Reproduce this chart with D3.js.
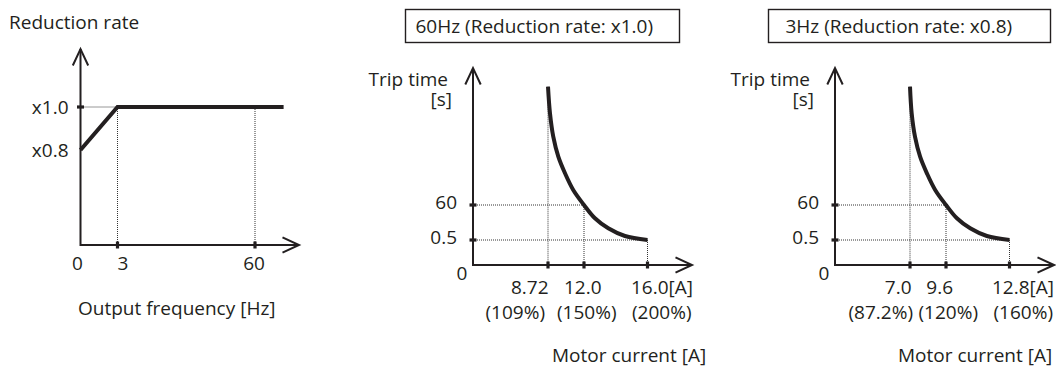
<!DOCTYPE html>
<html>
<head>
<meta charset="utf-8">
<script src="https://cdn.jsdelivr.net/npm/d3@7"></script>
<style>
  html, body { margin: 0; padding: 0; background: #fff; overflow: hidden; }
  svg { display: block; }
  text { font-family: "Open Sans", "Noto Sans", sans-serif; font-size: 19px; fill: #231f20; }
</style>
</head>
<body>
<svg id="chart" width="1056" height="367"></svg>
<script>
// ---------- DATA ----------
// Panel 1: reduction rate vs output frequency
const freqTicks = [0, 3, 60];
const freqTickLabels = ["0", "3", "60"];
const rateTicks = [0.8, 1.0];
const rateTickLabels = ["x0.8", "x1.0"];
const rateFreq = [0, 3, 73];
const rateValue = [0.8, 1.0, 1.0];

// Trip time axis (shared by panels 2 and 3)
const timeTicks = [0.5, 60];
const timeTickLabels = ["0.5", "60"];

// Panel 2: 60Hz (reduction rate x1.0)
const hz60Current = [8.72, 8.90, 9.20, 9.66, 10.27, 11.02, 12.0, 12.69, 13.53, 14.58, 16.0];
const hz60Time = [3117, 2430, 1825, 1308, 879, 448, 60, 37.4, 20.4, 7.3, 0.5];
const hz60Ticks = [8.72, 12.0, 16.0];
const hz60TickLabels = ["8.72", "12.0", "16.0[A]"];
const hz60PctLabels = ["(109%)", "(150%)", "(200%)"];

// Panel 3: 3Hz (reduction rate x0.8)
const hz3Current = [7.0, 7.12, 7.36, 7.73, 8.22, 8.82, 9.6, 10.15, 10.82, 11.66, 12.8];
const hz3Time = [3117, 2430, 1825, 1308, 879, 448, 60, 37.4, 20.4, 7.3, 0.5];
const hz3Ticks = [7.0, 9.6, 12.8];
const hz3TickLabels = ["7.0", "9.6", "12.8[A]"];
const hz3PctLabels = ["(87.2%)", "(120%)", "(160%)"];

// ---------- LAYOUT ----------
const svg = d3.select("#chart");
const INK = "#231f20";

function arrowUp(g, x, y) {
  g.append("path").attr("d", `M${x - 7.7},${y + 16.5}L${x},${y}L${x + 7.7},${y + 16.5}`)
    .attr("fill", "none").attr("stroke", INK).attr("stroke-width", 2);
}
function arrowRight(g, x, y) {
  g.append("path").attr("d", `M${x - 16.5},${y - 7.7}L${x},${y}L${x - 16.5},${y + 7.7}`)
    .attr("fill", "none").attr("stroke", INK).attr("stroke-width", 2);
}
function dotted(g, x1, y1, x2, y2) {
  g.append("line").attr("x1", x1).attr("y1", y1).attr("x2", x2).attr("y2", y2)
    .attr("stroke", "#333").attr("stroke-width", 1).attr("stroke-dasharray", "1,1");
}
function axes(g, x, y) {
  const [x0, x1] = [x.range()[0], x.range()[x.range().length - 1]];
  const [y0, y1] = [y.range()[0], y.range()[y.range().length - 1]];
  g.append("path").attr("d", `M${x0},${y1}L${x0},${y0}L${x1},${y0}`)
    .attr("fill", "none").attr("stroke", INK).attr("stroke-width", 2);
  arrowUp(g, x0, y1);
  arrowRight(g, x1, y0);
}
function xTick(g, px, py) {
  g.append("line").attr("x1", px).attr("x2", px).attr("y1", py - 3.5).attr("y2", py + 3.5)
    .attr("stroke", INK).attr("stroke-width", 3.2);
}
function yTick(g, px, py) {
  g.append("line").attr("x1", px - 3.5).attr("x2", px + 3.5).attr("y1", py).attr("y2", py)
    .attr("stroke", INK).attr("stroke-width", 3.2);
}

// ---------- PANEL 1 ----------
(function () {
  const g = svg.append("g");
  const x = d3.scaleLinear().domain([0, 3, 60, 80]).range([80.5, 117.5, 255, 299]);
  const y = d3.scaleLinear().domain([0, 0.8, 1.0, 1.3]).range([245, 150, 107, 49]);

  g.append("text").attr("x", 9).attr("y", 29).text("Reduction rate");

  dotted(g, x(0), y(1.0), x(3), y(1.0));
  dotted(g, x(3), y(1.0), x(3), y(0));
  dotted(g, x(60), y(1.0), x(60), y(0));

  axes(g, x, y);

  freqTicks.slice(1).forEach(v => xTick(g, x(v), y(0)));
  yTick(g, x(0), y(1.0));

  const line = d3.line().x(d => x(d[0])).y(d => y(d[1]));
  g.append("path").datum(d3.zip(rateFreq, rateValue)).attr("d", line)
    .attr("fill", "none").attr("stroke", INK).attr("stroke-width", 4).attr("stroke-linejoin", "miter");

  const freqDx = [-3, 5.5, -1];
  freqTickLabels.forEach((t, i) => {
    g.append("text").attr("x", x(freqTicks[i]) + freqDx[i]).attr("y", 269.5)
      .attr("text-anchor", "middle").text(t);
  });
  rateTickLabels.forEach((t, i) => {
    g.append("text").attr("x", 68.5).attr("y", y(rateTicks[i]) + 6.5)
      .attr("text-anchor", "end").text(t);
  });
  g.append("text").attr("x", 78).attr("y", 314.5).text("Output frequency [Hz]");
})();

// ---------- PANELS 2 & 3 ----------
function tripPanel(opts) {
  const g = svg.append("g");
  const x = d3.scaleLinear().domain(opts.xDomain).range(opts.xRange);
  const y = d3.scaleLinear().domain([0, 0.5, 60, 3600]).range([265, 240, 205, 68]);

  g.append("rect").attr("x", opts.box[0]).attr("y", 9.5).attr("width", opts.box[1]).attr("height", 33)
    .attr("fill", "none").attr("stroke", INK).attr("stroke-width", 1.4);
  g.append("text").attr("x", opts.box[0] + opts.titleDx).attr("y", 32.5).text(opts.title);

  const ax = x(0);
  g.append("text").attr("x", ax - 25).attr("y", 86).attr("text-anchor", "end").text("Trip time");
  g.append("text").attr("x", ax - 21).attr("y", 105.5).attr("text-anchor", "end").text("[s]");

  const cur = opts.current, tm = opts.time;
  const pts = d3.zip(cur, tm);
  dotted(g, ax, y(60), x(opts.ticks[1]), y(60));
  dotted(g, ax, y(0.5), x(opts.ticks[2]), y(0.5));
  dotted(g, x(opts.ticks[0]), y(tm[0]), x(opts.ticks[0]), y(0));
  dotted(g, x(opts.ticks[1]), y(60), x(opts.ticks[1]), y(0));
  dotted(g, x(opts.ticks[2]), y(0.5), x(opts.ticks[2]), y(0));

  axes(g, x, y);
  opts.ticks.forEach(v => xTick(g, x(v), y(0)));
  timeTicks.forEach(v => yTick(g, ax, y(v)));

  const line = d3.line().x(d => x(d[0])).y(d => y(d[1])).curve(d3.curveCatmullRom.alpha(0.5));
  g.append("path").datum(pts).attr("d", line)
    .attr("fill", "none").attr("stroke", INK).attr("stroke-width", 4).attr("stroke-linecap", "butt");

  timeTickLabels.forEach((t, i) => {
    g.append("text").attr("x", ax - 16).attr("y", y(timeTicks[i]) + 4)
      .attr("text-anchor", "end").text(t);
  });
  g.append("text").attr("x", ax - 11).attr("y", 279.5).attr("text-anchor", "middle").text("0");

  opts.tickLabels.forEach((t, i) => {
    g.append("text").attr("x", x(opts.ticks[i]) + opts.row1Dx[i]).attr("y", 293.5)
      .attr("text-anchor", "end").text(t);
  });
  opts.pctLabels.forEach((t, i) => {
    g.append("text").attr("x", x(opts.ticks[i]) + opts.row2Dx[i]).attr("y", 318.5)
      .attr("text-anchor", "end").text(t);
  });
  g.append("text").attr("x", opts.xTitle).attr("y", 361.5).text("Motor current [A]");
}

tripPanel({
  xDomain: [0, 8.72, 12.0, 16.0, 18.8],
  xRange: [473, 548, 584, 647.5, 692],
  box: [405.5, 274], titleDx: 10, title: "60Hz (Reduction rate: x1.0)",
  current: hz60Current, time: hz60Time,
  ticks: hz60Ticks, tickLabels: hz60TickLabels, pctLabels: hz60PctLabels,
  row1Dx: [0.5, 17.5, 45.5], row2Dx: [-3, 32.5, 44],
  xTitle: 552
});

tripPanel({
  xDomain: [0, 7.0, 9.6, 12.8, 15.0],
  xRange: [835, 910, 946, 1009.5, 1054],
  box: [768.5, 282], titleDx: 17, title: "3Hz (Reduction rate: x0.8)",
  current: hz3Current, time: hz3Time,
  ticks: hz3Ticks, tickLabels: hz3TickLabels, pctLabels: hz3PctLabels,
  row1Dx: [1.5, 7, 44.5], row2Dx: [3, 32, 43.5],
  xTitle: 898
});
</script>
</body>
</html>
